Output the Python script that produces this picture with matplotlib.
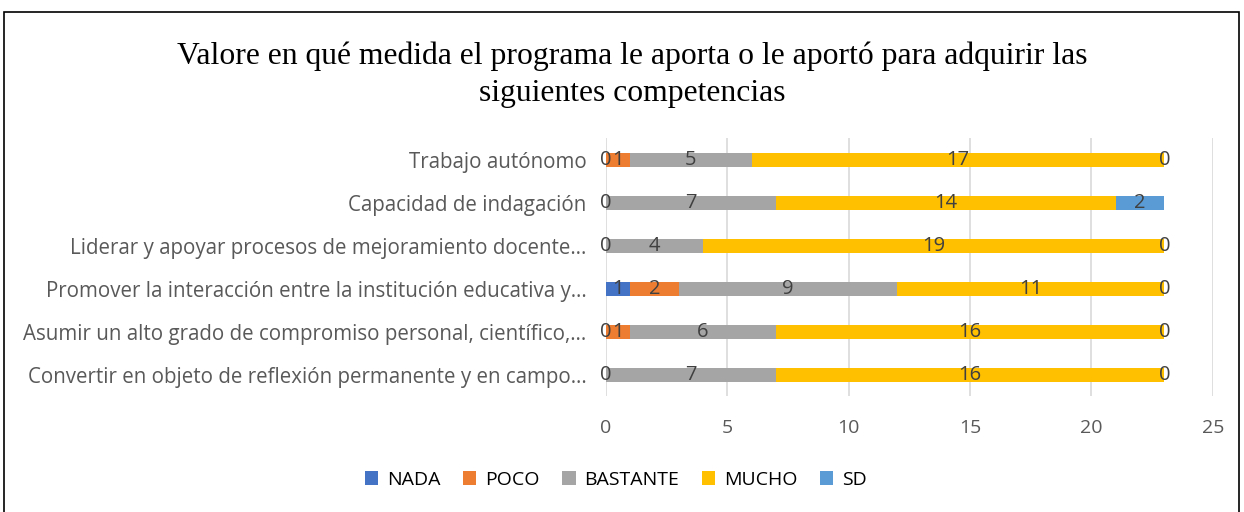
import numpy as np
import matplotlib.pyplot as plt
from matplotlib.patches import Rectangle

# DATA (rows listed bottom -> top, as matplotlib draws them)
categories = [
    "Convertir en objeto de reflexión permanente y en campo…",
    "Asumir un alto grado de compromiso personal, científico,…",
    "Promover la interacción entre la institución educativa y…",
    "Liderar y apoyar procesos de mejoramiento docente…",
    "Capacidad de indagación",
    "Trabajo autónomo",
]
series_names = ["NADA", "POCO", "BASTANTE", "MUCHO", "SD"]
nada     = [0, 0, 1, 0, 0, 0]
poco     = [np.nan, 1, 2, np.nan, np.nan, 1]   # blank cells in source
bastante = [7, 6, 9, 4, 7, 5]
mucho    = [16, 16, 11, 19, 14, 17]
sd       = [0, 0, 0, 0, 2, 0]
xticks = [0, 5, 10, 15, 20, 25]

colors = ["#4472c4", "#ed7d31", "#a5a5a5", "#ffc000", "#5b9bd5"]
title = "Valore en qué medida el programa le aporta o le aportó para adquirir las\nsiguientes competencias"

# PLOT
fig = plt.figure(figsize=(12.44, 5.12), dpi=100)
fig.patches.append(Rectangle((0.003, -0.01), 0.993, 0.987, transform=fig.transFigure,
                             fill=False, edgecolor="black", linewidth=1.2))
ax = fig.add_axes([0.487, 0.2256, 0.488, 0.504])

y = np.arange(len(categories))
left = np.zeros(len(categories))
for name, vals, col in zip(series_names, [nada, poco, bastante, mucho, sd], colors):
    vals = np.array(vals, dtype=float)
    w = np.nan_to_num(vals)
    ax.barh(y, w, left=left, height=0.33, color=col, label=name, zorder=3)
    for yi, v, l in zip(y, vals, left):
        if np.isnan(v):
            continue
        ax.text(l + v / 2, yi, f"{int(v)}", ha="center", va="center",
                fontsize=14.5, color="#404040", zorder=4, family="Open Sans")
    left = left + w

ax.set_xlim(0, 25)
ax.set_ylim(-0.5, len(categories) - 0.5)
ax.set_xticks(xticks)
ax.set_yticks(y)
ax.set_yticklabels(categories, family="Open Sans", fontsize=14.8, color="#595959")
for lab in ax.get_xticklabels():
    lab.set_family("Open Sans")
    lab.set_fontsize(14)
    lab.set_color("#595959")
ax.tick_params(axis="both", length=0)
ax.tick_params(axis="x", pad=16)
ax.tick_params(axis="y", pad=14)
for s in ax.spines.values():
    s.set_visible(False)
ax.grid(axis="x", color="#d9d9d9", linewidth=1.2, zorder=0)

fig.text(0.508, 0.854, title, ha="center", va="center", fontsize=22.8,
         family="Liberation Serif", color="black", linespacing=1.35)

handles, labels = ax.get_legend_handles_labels()
leg = fig.legend(handles, labels, loc="center", bbox_to_anchor=(0.495, 0.063), ncol=5,
                 frameon=False, handlelength=0.7, handleheight=0.7, handletextpad=0.45,
                 columnspacing=1.15, prop={"family": "Open Sans", "size": 14})

plt.savefig("out.png", dpi=100)
